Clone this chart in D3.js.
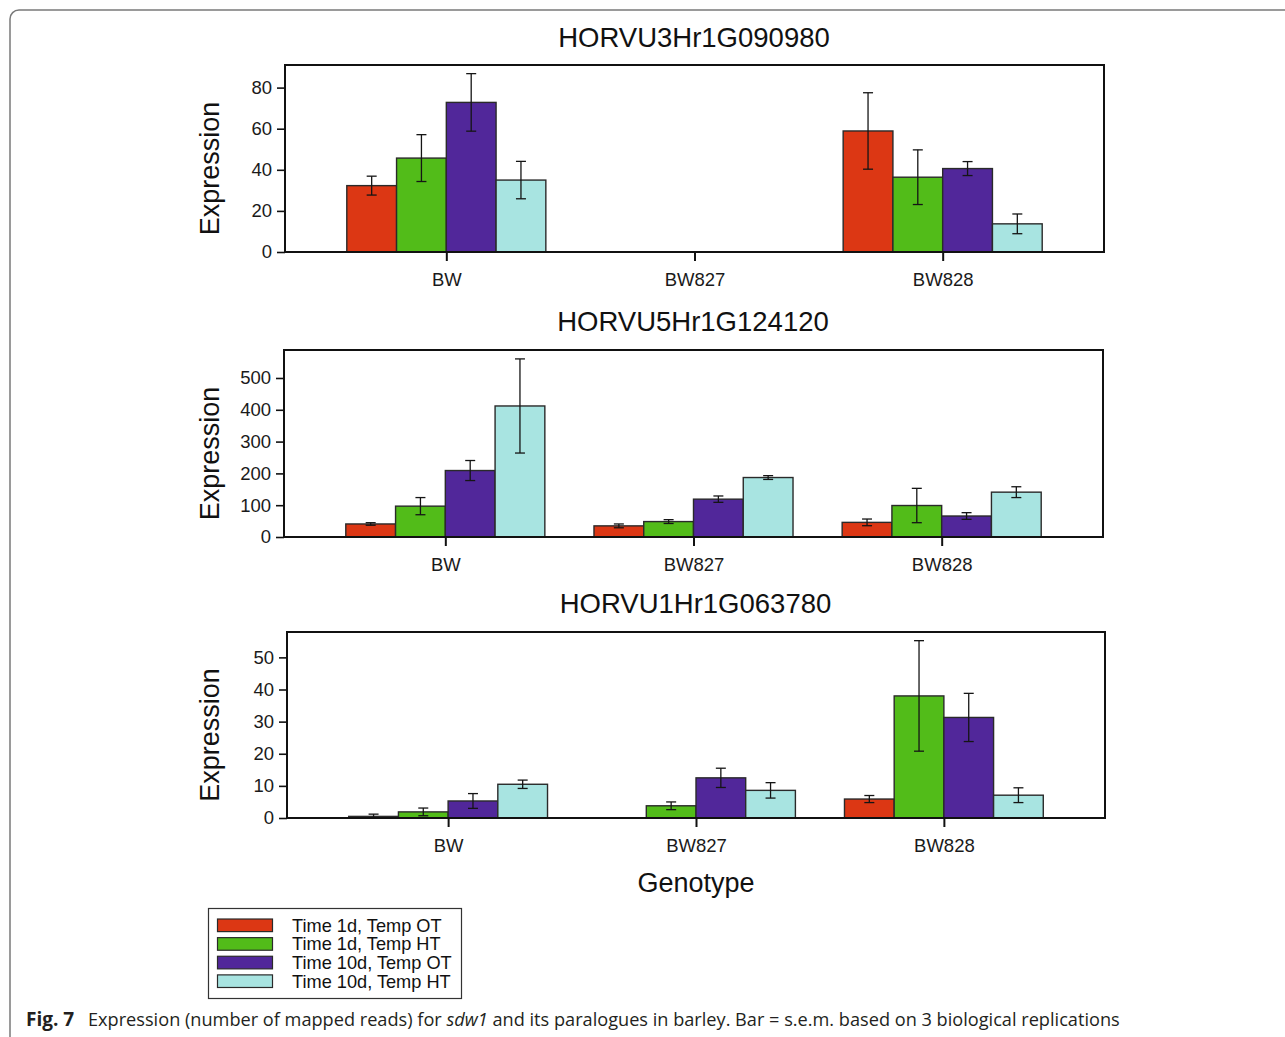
<!DOCTYPE html>
<html>
<head>
<meta charset="utf-8">
<script src="https://cdn.jsdelivr.net/npm/d3@7"></script>
<style>
  html, body { margin: 0; padding: 0; background: #fff; }
  svg { display: block; }
</style>
</head>
<body>
<svg id="fig" width="1285" height="1037"></svg>
<script>
// genotypes on the x axis and the four treatment series
const genotypes = ["BW", "BW827", "BW828"];
const seriesNames = ["Time 1d, Temp OT", "Time 1d, Temp HT", "Time 10d, Temp OT", "Time 10d, Temp HT"];
const seriesColors = ["#dc3714", "#52bc19", "#51279a", "#a8e4e1"];

const geneNames = ["HORVU3Hr1G090980", "HORVU5Hr1G124120", "HORVU1Hr1G063780"];

// means, one row per genotype, one value per series (null = no bar)
const meanGene1 = [[32.3, 45.7, 72.8, 35.0], [null, null, null, null], [58.9, 36.4, 40.6, 13.7]];
const semGene1  = [[4.6, 11.4, 14.0, 9.1], [null, null, null, null], [18.6, 13.3, 3.4, 4.8]];

const meanGene2 = [[41, 97, 209, 412], [35, 48.5, 119, 187], [46, 99, 66, 141]];
const semGene2  = [[4, 27, 31.5, 148], [6, 6, 10, 6], [10.5, 54, 10.5, 17]];

const meanGene3 = [[0.5, 1.9, 5.3, 10.5], [null, 3.8, 12.5, 8.6], [5.9, 38, 31.3, 7.1]];
const semGene3  = [[0.7, 1.2, 2.3, 1.3], [null, 1.2, 3.0, 2.4], [1.1, 17.2, 7.5, 2.3]];

const yTicks1 = [0, 20, 40, 60, 80];
const yTicks2 = [0, 100, 200, 300, 400, 500];
const yTicks3 = [0, 10, 20, 30, 40, 50];

const legendLabels = seriesNames;

const font = "'Liberation Sans', Arial, sans-serif";
const capFont = "'Open Sans', 'Noto Sans', sans-serif";
const svg = d3.select("#fig");

// outer figure border (rounded box running off the right and bottom edges)
svg.append("rect")
    .attr("x", 10).attr("y", 10)
    .attr("width", 1300).attr("height", 1045)
    .attr("rx", 9).attr("ry", 9)
    .attr("fill", "none")
    .attr("stroke", "#7a7a7a")
    .attr("stroke-width", 1.5);

const panels = [
    { name: geneNames[0], mean: meanGene1, sem: semGene1, ticks: yTicks1, yMax: 91,
      left: 285, right: 1104, top: 65, bottom: 252, titleY: 47 },
    { name: geneNames[1], mean: meanGene2, sem: semGene2, ticks: yTicks2, yMax: 588,
      left: 284, right: 1103, top: 350, bottom: 537, titleY: 331 },
    { name: geneNames[2], mean: meanGene3, sem: semGene3, ticks: yTicks3, yMax: 57.9,
      left: 287, right: 1105, top: 632, bottom: 818, titleY: 613 }
];

panels.forEach(p => drawPanel(p));

function drawPanel(p) {
    const g = svg.append("g");

    const x = d3.scalePoint()
        .domain(genotypes)
        .range([p.left, p.right])
        .padding(0.65);

    const groupW = x.step() * 0.802;
    const xs = d3.scaleBand()
        .domain(d3.range(seriesNames.length))
        .range([-groupW / 2, groupW / 2])
        .padding(0);

    const y = d3.scaleLinear()
        .domain([0, p.yMax])
        .range([p.bottom, p.top]);

    // bars
    const rows = [];
    genotypes.forEach((gt, i) => {
        p.mean[i].forEach((v, s) => {
            if (v !== null) rows.push({ gt, s, v, e: p.sem[i][s] });
        });
    });

    g.selectAll(".bar")
        .data(rows)
        .enter().append("rect")
        .attr("class", "bar")
        .attr("x", d => x(d.gt) + xs(d.s))
        .attr("y", d => y(d.v))
        .attr("width", xs.bandwidth())
        .attr("height", d => y(0) - y(d.v))
        .attr("fill", d => seriesColors[d.s])
        .attr("stroke", "#2a2a2a")
        .attr("stroke-width", 1.4);

    // error bars
    const eb = g.selectAll(".err")
        .data(rows)
        .enter().append("g")
        .attr("class", "err")
        .attr("stroke", "#151515")
        .attr("stroke-width", 1.3);

    const cx = d => x(d.gt) + xs(d.s) + xs.bandwidth() / 2;
    eb.append("line")
        .attr("x1", cx).attr("x2", cx)
        .attr("y1", d => y(d.v + d.e))
        .attr("y2", d => y(Math.max(0, d.v - d.e)));
    eb.append("line")
        .attr("x1", d => cx(d) - 5).attr("x2", d => cx(d) + 5)
        .attr("y1", d => y(d.v + d.e)).attr("y2", d => y(d.v + d.e));
    eb.append("line")
        .attr("x1", d => cx(d) - 5).attr("x2", d => cx(d) + 5)
        .attr("y1", d => y(Math.max(0, d.v - d.e))).attr("y2", d => y(Math.max(0, d.v - d.e)));

    // frame
    g.append("rect")
        .attr("x", p.left).attr("y", p.top)
        .attr("width", p.right - p.left)
        .attr("height", p.bottom - p.top)
        .attr("fill", "none")
        .attr("stroke", "#111")
        .attr("stroke-width", 2);

    // y axis
    const yAxis = g.append("g")
        .attr("transform", `translate(${p.left},0)`)
        .call(d3.axisLeft(y).tickValues(p.ticks).tickSize(8).tickPadding(5));
    yAxis.select(".domain").remove();
    yAxis.selectAll("line").attr("stroke", "#111").attr("stroke-width", 1.6);
    yAxis.selectAll("text")
        .attr("font-family", font)
        .attr("font-size", 18.5)
        .attr("fill", "#1a1a1a");

    // x axis
    const xAxis = g.append("g")
        .attr("transform", `translate(0,${p.bottom})`)
        .call(d3.axisBottom(x).tickSize(9).tickPadding(12));
    xAxis.select(".domain").remove();
    xAxis.selectAll("line").attr("stroke", "#111").attr("stroke-width", 2);
    xAxis.selectAll("text")
        .attr("font-family", font)
        .attr("font-size", 18.5)
        .attr("fill", "#1a1a1a");

    // title
    g.append("text")
        .attr("x", (p.left + p.right) / 2 - 0.5)
        .attr("y", p.titleY)
        .attr("text-anchor", "middle")
        .attr("font-family", font)
        .attr("font-size", 27.5)
        .attr("fill", "#111")
        .text(p.name);

    // y label
    g.append("text")
        .attr("transform", `translate(219,${(p.top + p.bottom) / 2 + 10}) rotate(-90)`)
        .attr("text-anchor", "middle")
        .attr("font-family", font)
        .attr("font-size", 27)
        .attr("fill", "#111")
        .text("Expression");
}

// x axis title
svg.append("text")
    .attr("x", 696).attr("y", 892)
    .attr("text-anchor", "middle")
    .attr("font-family", font)
    .attr("font-size", 27)
    .attr("fill", "#111")
    .text("Genotype");

// legend
const legend = svg.append("g");
legend.append("rect")
    .attr("x", 208.5).attr("y", 908.5)
    .attr("width", 253).attr("height", 90)
    .attr("fill", "#fff")
    .attr("stroke", "#333")
    .attr("stroke-width", 1.2);

const ly = d3.scaleBand()
    .domain(d3.range(legendLabels.length))
    .range([916, 990.5]);

const items = legend.selectAll(".item")
    .data(legendLabels)
    .enter().append("g")
    .attr("class", "item")
    .attr("transform", (d, i) => `translate(0,${ly(i) + ly.bandwidth() / 2})`);

items.append("rect")
    .attr("x", 217.5).attr("y", -6.3)
    .attr("width", 55).attr("height", 12.6)
    .attr("fill", (d, i) => seriesColors[i])
    .attr("stroke", "#2a2a2a")
    .attr("stroke-width", 1.2);

items.append("text")
    .attr("x", 292)
    .attr("dy", "0.35em")
    .attr("font-family", font)
    .attr("font-size", 18.2)
    .attr("fill", "#111")
    .text(d => d);

// caption
svg.append("text")
    .attr("x", 26).attr("y", 1026)
    .attr("font-family", capFont)
    .attr("font-size", 19)
    .attr("font-weight", "bold")
    .attr("fill", "#231f20")
    .text("Fig. 7");

const cap = svg.append("text")
    .attr("x", 88).attr("y", 1026)
    .attr("font-family", capFont)
    .attr("font-size", 18.5)
    .attr("fill", "#231f20");
cap.append("tspan").text("Expression (number of mapped reads) for ");
cap.append("tspan").attr("font-style", "italic").text("sdw1");
cap.append("tspan").text(" and its paralogues in barley. Bar = s.e.m. based on 3 biological replications");

// fit the caption to the width it takes in the figure
const capLen = cap.node().getComputedTextLength();
cap.attr("font-size", 18.5 * 1032 / capLen);
</script>
</body>
</html>
